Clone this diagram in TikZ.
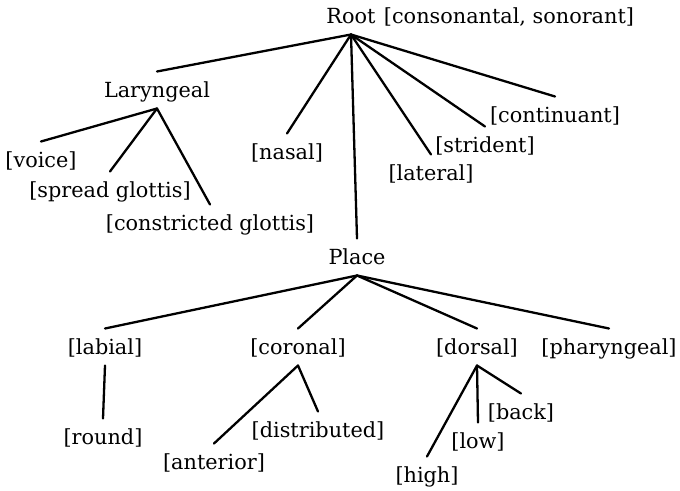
\documentclass[tikz,border=0pt]{standalone}
\usepackage{fontspec}
\setmainfont{DejaVu Serif}
\begin{document}
\begin{tikzpicture}[x=1pt,y=-1pt,
  feat/.style={inner sep=0pt,outer sep=0pt,minimum height=37pt,text height=15pt,text depth=0pt,font=\fontsize{20.8}{24}\selectfont},
  branch/.style={line width=2.3pt,line cap=round}]
\useasboundingbox (0,0) rectangle (680,490);
\node[feat] (root) at (351,16) {Root};
\node[feat] (rootf) at (509,16) {[consonantal, sonorant]};
\node[feat] (lar) at (157,90) {Laryngeal};
\node[feat] (voice) at (41,160) {[voice]};
\node[feat] (spread) at (110,190) {[spread glottis]};
\node[feat] (constr) at (210,223) {[constricted glottis]};
\node[feat] (nasal) at (287,152) {[nasal]};
\node[feat] (lateral) at (431,173) {[lateral]};
\node[feat] (strident) at (485,145) {[strident]};
\node[feat] (cont) at (555,115) {[continuant]};
\node[feat] (place) at (357,257) {Place};
\node[feat] (labial) at (105,347) {[labial]};
\node[feat] (coronal) at (298,347) {[coronal]};
\node[feat] (dorsal) at (477,347) {[dorsal]};
\node[feat] (phar) at (609,347) {[pharyngeal]};
\node[feat] (round) at (103,437) {[round]};
\node[feat] (anterior) at (214,462) {[anterior]};
\node[feat] (distr) at (318,430) {[distributed]};
\node[feat] (high) at (427,475) {[high]};
\node[feat] (low) at (478,441) {[low]};
\node[feat] (back) at (521,412) {[back]};
\foreach \c in {lar,nasal,place,lateral,strident,cont}
  \draw[branch] (root.south) -- (\c.north);
\foreach \c in {voice,spread,constr}
  \draw[branch] (lar.south) -- (\c.north);
\foreach \c in {labial,coronal,dorsal,phar}
  \draw[branch] (place.south) -- (\c.north);
\draw[branch] (labial.south) -- (round.north);
\foreach \c in {anterior,distr}
  \draw[branch] (coronal.south) -- (\c.north);
\foreach \c in {high,low,back}
  \draw[branch] (dorsal.south) -- (\c.north);
\end{tikzpicture}
\end{document}
